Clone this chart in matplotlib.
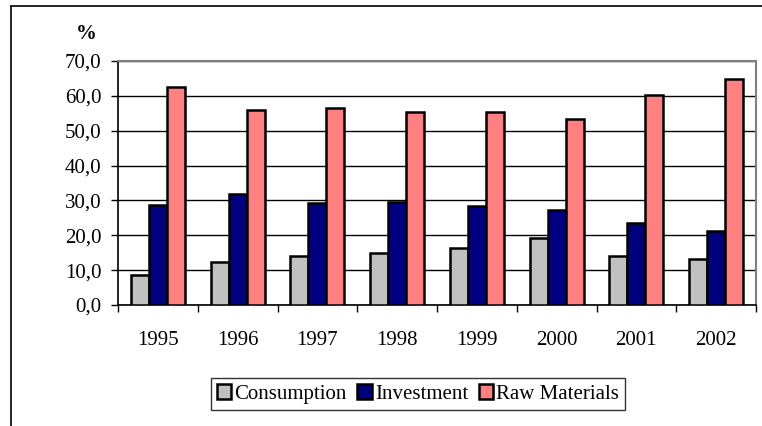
import numpy as np
import matplotlib.pyplot as plt
from matplotlib.lines import Line2D

plt.rcParams['font.family'] = ['Liberation Serif', 'DejaVu Serif']

years = ['1995', '1996', '1997', '1998', '1999', '2000', '2001', '2002']
consumption = [8.6, 12.4, 14.2, 14.8, 16.4, 19.1, 14.2, 13.3]
investment = [28.7, 31.9, 29.4, 29.6, 28.4, 27.3, 23.6, 21.3]
raw_materials = [62.6, 55.9, 56.4, 55.3, 55.3, 53.3, 60.2, 64.7]

series = [('Consumption', consumption, '#c0c0c0'),
          ('Investment', investment, '#000080'),
          ('Raw Materials', raw_materials, '#ff8080')]

W, H = 762, 426
fig = plt.figure(figsize=(W / 100, H / 100), dpi=100)

# outer chart frame (only left and top edges visible)
fig.add_artist(Line2D([11 / W, 11 / W], [0, 1 - 6 / H], color='black', lw=1.2))
fig.add_artist(Line2D([11 / W, 1], [1 - 6 / H, 1 - 6 / H], color='black', lw=1.2))

left, right, top, bottom = 118, 756, 61, 305
ax = fig.add_axes([left / W, 1 - bottom / H, (right - left) / W, (bottom - top) / H])

x = np.arange(len(years))
bw = 0.226
for i, (name, vals, col) in enumerate(series):
    ax.bar(x + (i - 1) * bw, vals, bw, color=col, edgecolor='black',
           linewidth=1.8, label=name, zorder=3)

ax.set_xlim(-0.5, len(years) - 0.5)
ax.set_ylim(0, 70)
ax.set_yticks(np.arange(0, 71, 10))
ax.set_yticklabels([f'{v:.1f}'.replace('.', ',') for v in np.arange(0, 71, 10)])
ax.yaxis.grid(True, color='black', lw=1.0, zorder=0)

ax.set_xticks(x)
ax.set_xticklabels(years)
ax.set_xticks(np.arange(-0.5, len(years)), minor=True)
ax.tick_params(axis='x', which='major', length=0, pad=19, labelsize=15)
ax.tick_params(axis='x', which='minor', length=5, width=1, direction='out')
ax.tick_params(axis='y', length=5, width=1, direction='out', pad=7, labelsize=15)

for s in ['top', 'right']:
    ax.spines[s].set_color('#808080')
    ax.spines[s].set_linewidth(1.5)
ax.spines['left'].set_linewidth(1.2)
ax.spines['bottom'].set_linewidth(1.2)

fig.text(86 / W, 1 - 34 / H, '%', fontsize=15, fontweight='bold',
         ha='center', va='center')

leg = fig.legend(loc='center', bbox_to_anchor=(418 / W, 1 - 394 / H), ncol=3,
                 frameon=True, fancybox=False, fontsize=15, handlelength=0.7,
                 handleheight=0.7, handletextpad=0.15, columnspacing=0.5,
                 borderpad=0.3, edgecolor='black', borderaxespad=0)
leg.get_frame().set_linewidth(1.0)

fig.savefig('out.png', dpi=100)
